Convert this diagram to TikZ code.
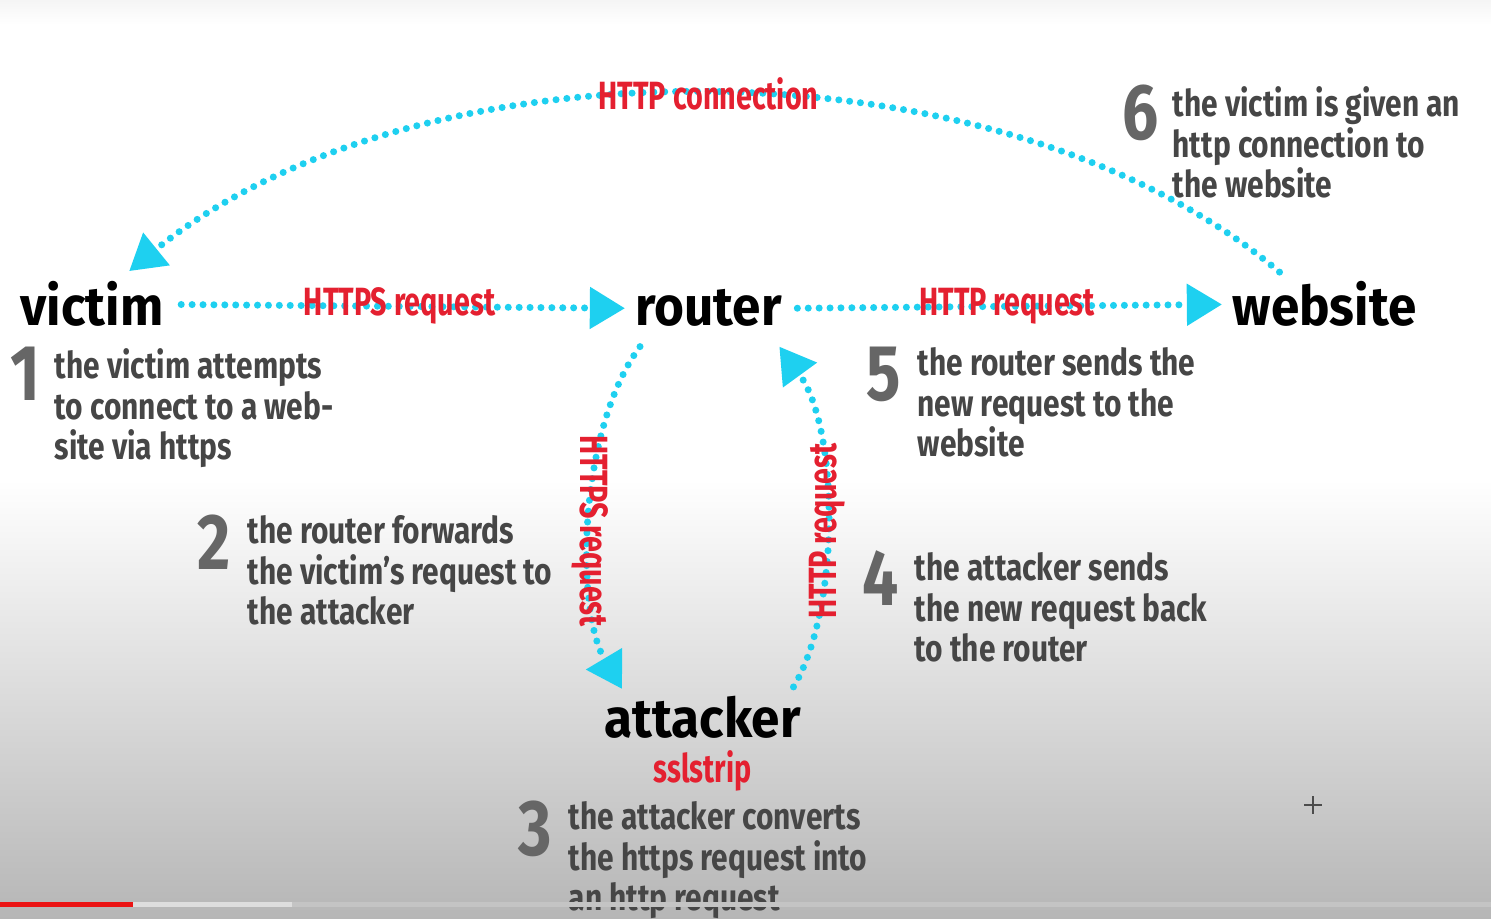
\documentclass[tikz,border=0pt]{standalone}
\usepackage{fontspec}
\setmainfont{Fira Sans}[FakeStretch=0.81]
\newfontfamily\hostfont{Fira Sans}[FakeStretch=0.94]
\newfontfamily\labelfont{Fira Sans}[FakeStretch=0.73]
\usetikzlibrary{arrows.meta,calc,positioning}
\definecolor{dotcyan}{RGB}{30,208,240}
\definecolor{flowred}{RGB}{228,32,48}
\definecolor{notegray}{RGB}{70,70,70}
\definecolor{numgray}{RGB}{102,102,102}
\definecolor{barred}{RGB}{235,20,20}
\definecolor{barlight}{RGB}{222,222,222}
\definecolor{bargray}{RGB}{196,196,196}
\definecolor{topgray}{RGB}{245,245,245}
\definecolor{bottomgray}{RGB}{182,182,182}
\tikzset{%
	host/.style     = {inner sep=0pt, anchor=base west, text=black, font=\hostfont\bfseries\fontsize{15.5}{15.5}\selectfont},
	flowlabel/.style= {inner sep=0pt, text=flowred, font=\labelfont\bfseries\fontsize{11.2}{11.2}\selectfont},
	stepnum/.style  = {inner sep=0pt, anchor=north west, text=numgray, font=\bfseries\fontsize{22.5}{22.5}\selectfont},
	note/.style     = {inner sep=0pt, anchor=north west, align=left, text=notegray, font=\bfseries\fontsize{10.5}{11.5}\selectfont},
	flow/.style     = {dotcyan, line width=2pt, line cap=round, dash pattern=on 0pt off 3.1pt, -{Triangle[length=10pt,width=11.5pt]}},
}
\begin{document}
\begin{tikzpicture}[x=0.01cm,y=-0.01cm]
	\useasboundingbox (0,0) rectangle (1491,919);
	% background of the video frame
	\fill[white] (0,0) rectangle (1491,919);
	\shade[top color=topgray, bottom color=white] (0,0) rectangle (1491,25);
	\shade[top color=white, bottom color=bottomgray] (0,480) rectangle (1491,919);
	
	\node[host] (victim) at (20,326) {victim};
	\node[host] (router) at (635,326) {router};
	\node[host] (website) at (1232,326) {website};
	\node[host] (attacker) at (604,738) {attacker};
	\node[flowlabel, below=0.1cm of attacker] (sslstrip) {sslstrip};
	
	\draw[flow, shorten <=0.17cm, shorten >=0.1cm] (victim.east) -- node[flowlabel] {HTTPS request} (router.west);
	\draw[flow, shorten <=0.15cm, shorten >=0.1cm] (router.east) -- node[flowlabel] {HTTP request} (website.west);
	\draw[flow] ($(router.south west)+(5,19)$) .. controls (578,430) and (575,610) .. ($(attacker.north west)+(18,-7)$)
		node[flowlabel, pos=0.53, rotate=-90] {HTTPS request};
	\draw[flow] ($(attacker.north east)+(-8,-9)$) .. controls (840,610) and (840,430) .. ($(router.south east)+(-3,19)$)
		node[flowlabel, pos=0.47, rotate=90] {HTTP request};
	\draw[flow] ($(website.north)+(-45,-9)$) .. controls (1000,35) and (420,35) .. ($(victim.north east)+(-35,-10)$)
		node[flowlabel, pos=0.5] {HTTP connection};
	
	% numbered notes
	\node[stepnum] (n1) at (10,346) {1};
	\node[note] (t1) at (54,348) {the victim attempts\\to connect to a web-\\site via https};
	\node[stepnum] (n2) at (197,514) {2};
	\node[note] (t2) at (247,515) {the router forwards\\the victim’s request to\\the attacker};
	\node[stepnum] (n3) at (518,800) {3};
	\node[note] (t3) at (568,801) {the attacker converts\\the https request into\\an http request};
	\node[stepnum] (n4) at (862,550) {4};
	\node[note] (t4) at (914,552) {the attacker sends\\the new request back\\to the router};
	\node[stepnum] (n5) at (866,346) {5};
	\node[note] (t5) at (917,347) {the router sends the\\new request to the\\website};
	\node[stepnum] (n6) at (1122,84) {6};
	\node[note] (t6) at (1172,86) {the victim is given an\\http connection to\\the website};
	
	% player bar and cursor
	\fill[bargray] (0,902) rectangle (1491,907);
	\fill[barlight] (0,902) rectangle (292,907);
	\fill[barred] (0,902) rectangle (133,907);
	\draw[line width=0.6pt, black!70] (1304,805) -- (1322,805) (1313,796) -- (1313,814);
\end{tikzpicture}
\end{document}
